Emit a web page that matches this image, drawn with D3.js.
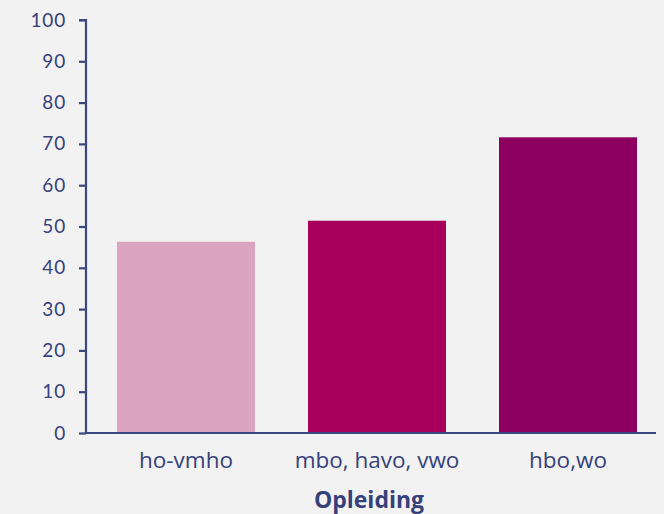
<!DOCTYPE html>
<html>
<head>
<meta charset="utf-8">
<script src="https://cdn.jsdelivr.net/npm/d3@7"></script>
<style>
  body { margin: 0; background: #f2f2f2; }
  svg { display: block; }
</style>
</head>
<body>
<div id="chart"></div>
<script>
const categories = ["ho-vmho", "mbo, havo, vwo", "hbo,wo"];
const values = [46.3, 51.4, 71.6];
const barColors = ["#dba4c1", "#a8005a", "#8e0060"];
const yTicks = [0, 10, 20, 30, 40, 50, 60, 70, 80, 90, 100];
const xTitle = "Opleiding";

const width = 664;
const height = 514;
const axisColor = "#3b4781";
const textColor = "#36417a";

const svg = d3.select("#chart")
    .append("svg")
    .attr("width", width)
    .attr("height", height)
    .style("background", "#f2f2f2");

const x = d3.scaleBand()
    .domain(categories)
    .range([86, 656])
    .paddingInner(0.2775)
    .paddingOuter(0.131)
    .align(0.62);

const y = d3.scaleLinear()
    .domain([0, 100])
    .range([433, 20]);

// bars
svg.selectAll(".bar")
    .data(categories)
    .enter()
    .append("rect")
    .attr("class", "bar")
    .attr("x", d => x(d))
    .attr("y", (d, i) => y(values[i]))
    .attr("width", x.bandwidth())
    .attr("height", (d, i) => y(0) - y(values[i]))
    .attr("fill", (d, i) => barColors[i]);

// y axis
const yAxis = svg.append("g")
    .attr("transform", "translate(86,0)")
    .call(d3.axisLeft(y).tickValues(yTicks).tickSize(7).tickPadding(11));
yAxis.select(".domain").attr("stroke", axisColor).attr("stroke-width", 2.2)
    .attr("d", `M-7,${y(100)}H0V${y(0)}`);
yAxis.selectAll(".tick line").attr("stroke", axisColor).attr("stroke-width", 2.2);
yAxis.selectAll(".tick text")
    .attr("fill", textColor)
    .attr("dx", "-2")
    .style("font-family", "Lato, 'Open Sans', sans-serif")
    .style("font-size", "19px")
    .style("letter-spacing", "0.8px");

// x axis
const xAxis = svg.append("g")
    .attr("transform", `translate(0,${y(0)})`)
    .call(d3.axisBottom(x).tickSize(0).tickPadding(19));
xAxis.select(".domain").attr("stroke", axisColor).attr("stroke-width", 2.2)
    .attr("d", `M85,0H656`);
xAxis.selectAll(".tick text")
    .attr("fill", textColor)
    .style("font-family", "'Open Sans', sans-serif")
    .style("font-size", "22.5px");

// axis title
svg.append("text")
    .attr("x", x.range()[0] + (x.range()[1] - x.range()[0]) / 2 - 2)
    .attr("y", 508)
    .attr("text-anchor", "middle")
    .attr("fill", textColor)
    .style("font-family", "'Open Sans', sans-serif")
    .style("font-weight", "bold")
    .style("font-size", "23px")
    .text(xTitle);
</script>
</body>
</html>
